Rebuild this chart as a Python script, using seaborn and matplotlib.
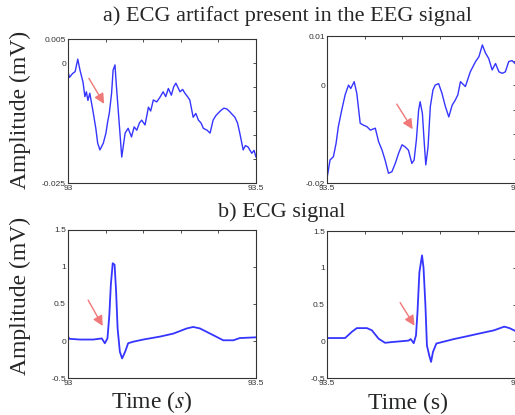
import numpy as np
import pandas as pd
import matplotlib
matplotlib.use("Agg")
import matplotlib.pyplot as plt
import seaborn as sns

# EEG with ECG artifact, 93.0 - 93.5 s
eeg1_t = [93.0, 93.004, 93.012, 93.019, 93.026, 93.032, 93.040, 93.045, 93.049, 93.053,
          93.058, 93.066, 93.074, 93.079, 93.085, 93.094, 93.101, 93.105, 93.110, 93.116,
          93.120, 93.125, 93.129, 93.137, 93.143, 93.152, 93.160, 93.169, 93.176, 93.183,
          93.190, 93.196, 93.205, 93.214, 93.220, 93.227, 93.236, 93.245, 93.253, 93.260,
          93.267, 93.275, 93.281, 93.287, 93.298, 93.305, 93.311, 93.318, 93.324, 93.333,
          93.340, 93.347, 93.354, 93.360, 93.370, 93.378, 93.386, 93.393, 93.400, 93.408,
          93.415, 93.423, 93.431, 93.438, 93.444, 93.451, 93.457, 93.466, 93.472, 93.479,
          93.485, 93.489, 93.495, 93.5]
eeg1_v = [-0.0018, -0.0030, -0.0022, -0.0018, 0.0008, -0.0015, -0.0040, -0.0070, -0.0060, -0.0078,
          -0.0063, -0.0098, -0.0136, -0.0167, -0.0181, -0.0167, -0.0146, -0.0125, -0.0104, -0.0063,
          -0.0015, -0.0004, -0.0050, -0.0133, -0.0196, -0.0146, -0.0136, -0.0154, -0.0133, -0.0140,
          -0.0125, -0.0119, -0.0129, -0.0092, -0.0100, -0.0077, -0.0081, -0.0071, -0.0060, -0.0070,
          -0.0053, -0.0067, -0.0050, -0.0042, -0.0060, -0.0055, -0.0063, -0.0070, -0.0077, -0.0113,
          -0.0105, -0.0119, -0.0125, -0.0136, -0.0140, -0.0146, -0.0119, -0.0110, -0.0104, -0.0098,
          -0.0094, -0.0096, -0.0102, -0.0108, -0.0113, -0.0125, -0.0146, -0.0181, -0.0172, -0.0175,
          -0.0183, -0.0188, -0.0182, -0.0196]

# EEG with ECG artifact, 93.5 - 94.0 s
eeg2_t = [93.5, 93.508, 93.517, 93.524, 93.530, 93.539, 93.548, 93.557, 93.563, 93.572,
          93.579, 93.588, 93.597, 93.606, 93.615, 93.628, 93.637, 93.646, 93.654, 93.663,
          93.672, 93.681, 93.690, 93.699, 93.707, 93.716, 93.725, 93.731, 93.737, 93.743,
          93.747, 93.753, 93.758, 93.762, 93.768, 93.774, 93.781, 93.787, 93.796, 93.805,
          93.814, 93.823, 93.832, 93.840, 93.847, 93.854, 93.867, 93.880, 93.894, 93.903,
          93.912, 93.920, 93.929, 93.938, 93.947, 93.956, 93.965, 93.973, 93.982, 93.991, 94.0]
eeg2_v = [-0.0190, -0.0153, -0.0146, -0.0119, -0.0085, -0.0051, -0.0020, 0.0000, -0.0007, 0.0007,
          -0.0017, -0.0078, -0.0082, -0.0085, -0.0092, -0.0088, -0.0116, -0.0133, -0.0153, -0.0180,
          -0.0177, -0.0160, -0.0139, -0.0122, -0.0126, -0.0133, -0.0160, -0.0153, -0.0112, -0.0051,
          -0.0034, -0.0058, -0.0119, -0.0163, -0.0126, -0.0044, -0.0010, 0.0000, 0.0003, -0.0017,
          -0.0044, -0.0065, -0.0041, -0.0031, -0.0020, 0.0007, -0.0003, 0.0027, 0.0048, 0.0058,
          0.0082, 0.0066, 0.0054, 0.0031, 0.0044, 0.0027, 0.0024, 0.0027, 0.0048, 0.0050, 0.0043]

# ECG, 93.0 - 93.5 s
ecg1_t = [93.0, 93.004, 93.032, 93.067, 93.090, 93.098, 93.105, 93.110, 93.114, 93.119,
          93.124, 93.128, 93.132, 93.138, 93.144, 93.152, 93.160, 93.173, 93.200, 93.245,
          93.280, 93.316, 93.333, 93.351, 93.386, 93.413, 93.440, 93.457, 93.5]
ecg1_v = [0.058, 0.030, 0.020, 0.020, 0.035, -0.030, 0.035, 0.350, 0.760, 1.050,
          1.030, 0.670, 0.170, -0.145, -0.235, -0.145, -0.030, -0.010, 0.020, 0.060,
          0.100, 0.170, 0.190, 0.170, 0.080, 0.010, 0.010, 0.040, 0.050]

# ECG, 93.5 - 94.0 s
ecg2_t = [93.5, 93.548, 93.566, 93.579, 93.606, 93.619, 93.637, 93.654, 93.672, 93.716,
          93.722, 93.730, 93.736, 93.740, 93.745, 93.752, 93.756, 93.761, 93.765, 93.771,
          93.776, 93.781, 93.790, 93.805, 93.836, 93.872, 93.907, 93.943, 93.970, 93.984, 94.0]
ecg2_v = [0.045, 0.045, 0.130, 0.180, 0.180, 0.150, 0.035, -0.020, -0.010, 0.010,
          0.030, -0.025, 0.080, 0.400, 0.940, 1.170, 1.000, 0.490, -0.055, -0.190,
          -0.280, -0.145, -0.030, -0.010, 0.030, 0.070, 0.110, 0.150, 0.200, 0.180, 0.140]

# y tick labels shown on each panel (others are left blank)
eeg1_ylabels = {-0.025: "-0.025", 0.0: "0", 0.005: "0.005"}
eeg2_ylabels = {-0.02: "-0.02", 0.0: "0", 0.01: "0.01"}
ecg_ylabels = {-0.5: "-0.5", 0.0: "0", 0.5: "0.5", 1.0: "1", 1.5: "1.5"}

# arrow tail / head points (time, amplitude)
arrows = [((93.052, -0.0027), (93.100, -0.0090)),
          ((93.681, -0.0034), (93.731, -0.0095)),
          ((93.050, 0.585), (93.096, 0.170)),
          ((93.690, 0.560), (93.736, 0.180))]

sns.set_style("white")
plt.rcParams["font.family"] = ["Liberation Serif", "DejaVu Serif"]
plt.rcParams["mathtext.fontset"] = "stix"

fig = plt.figure(figsize=(5.15, 4.15), dpi=100)
ax1 = fig.add_axes([0.132, 0.559, 0.365, 0.347])
ax2 = fig.add_axes([0.635, 0.559, 0.366, 0.354])
ax3 = fig.add_axes([0.132, 0.089, 0.365, 0.357])
ax4 = fig.add_axes([0.635, 0.089, 0.366, 0.354])

panels = [
    (ax1, eeg1_t, eeg1_v, (93.0, 93.5), (-0.025, 0.005), 0.005, eeg1_ylabels, 1.0),
    (ax2, eeg2_t, eeg2_v, (93.5, 94.0), (-0.02, 0.01), 0.005, eeg2_ylabels, 1.0),
    (ax3, ecg1_t, ecg1_v, (93.0, 93.5), (-0.5, 1.5), 0.5, ecg_ylabels, 1.3),
    (ax4, ecg2_t, ecg2_v, (93.5, 94.0), (-0.5, 1.5), 0.5, ecg_ylabels, 1.3),
]

for i, (ax, t, v, xl, yl, ystep, ylabs, lw) in enumerate(panels):
    df = pd.DataFrame({"t": t, "v": v})
    sns.lineplot(data=df, x="t", y="v", ax=ax, color="#3535ff", linewidth=lw)
    ax.set_xlim(*xl)
    ax.set_ylim(*yl)
    xt = np.round(np.arange(xl[0], xl[1] + 1e-9, 0.1), 2)
    ax.set_xticks(xt)
    ax.set_xticklabels([f"{xl[0]:g}"] + [""] * (len(xt) - 2) + [f"{xl[1]:g}"])
    yt = np.round(np.arange(yl[0], yl[1] + 1e-9, ystep), 4)
    ax.set_yticks(yt)
    ax.set_yticklabels([ylabs.get(round(float(y), 4), "") for y in yt])
    ax.tick_params(direction="in", length=2.5, width=0.6, top=True, right=True,
                   labelsize=6, pad=1.5, colors="#333333")
    for lab in ax.get_xticklabels() + ax.get_yticklabels():
        lab.set_family(["Liberation Sans", "DejaVu Sans"])
    for s in ax.spines.values():
        s.set_color("#333333")
        s.set_linewidth(0.8)
    ax.set_xlabel("")
    ax.set_ylabel("")
    (x0, y0), (x1, y1) = arrows[i]
    ax.annotate("", xy=(x1, y1), xytext=(x0, y0),
                arrowprops=dict(arrowstyle="-|>,head_length=0.6,head_width=0.3",
                                color="#f07878", lw=1.0))

fig.text(0.559, 0.962, "a) ECG artifact present in the EEG signal", ha="center", va="center", fontsize=16)
fig.text(0.546, 0.489, "b) ECG signal", ha="center", va="center", fontsize=16)
fig.text(0.040, 0.735, "Amplitude (mV)", ha="center", va="center", rotation=90, fontsize=17)
fig.text(0.040, 0.287, "Amplitude (mV)", ha="center", va="center", rotation=90, fontsize=17)
fig.text(0.295, 0.031, "Time ($s$)", ha="center", va="center", fontsize=17)
fig.text(0.792, 0.029, "Time (s)", ha="center", va="center", fontsize=17)

fig.savefig("out.png", dpi=100)
